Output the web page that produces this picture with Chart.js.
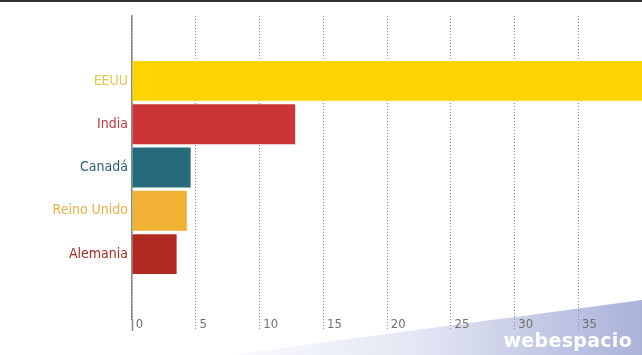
<!DOCTYPE html>
<html>
<head>
<meta charset="utf-8">
<script src="https://cdn.jsdelivr.net/npm/chart.js@4"></script>
<style>
  html, body { margin: 0; padding: 0; background: #fff; }
  .wrap { position: relative; width: 642px; height: 355px; overflow: hidden; background: #fff; }
  .topline { position: absolute; left: 0; top: 0; width: 642px; height: 2px; background: #333; }
  .band {
    position: absolute; left: 0; top: 0; width: 642px; height: 355px;
    clip-path: polygon(230px 355px, 642px 300px, 642px 355px);
    background: linear-gradient(90deg, rgba(255,255,255,0) 30%, rgba(220,224,240,0.8) 65%, #aab2da 100%);
  }
  .brand {
    position: absolute; right: 10px; top: 329px;
    font-family: "DejaVu Sans", sans-serif; font-weight: bold; font-size: 19px;
    color: #fff; letter-spacing: 0.3px;
  }
  canvas { position: absolute; left: 0; top: 0; }
</style>
</head>
<body>
<div class="wrap">
  <div class="band"></div>
  <canvas id="chart" width="642" height="355"></canvas>
  <div class="brand">webespacio</div>
  <div class="topline"></div>
</div>
<script>
const countries = ["", "EEUU", "India", "Canadá", "Reino Unido", "Alemania", ""];
const values = [null, 41, 12.8, 4.6, 4.3, 3.5, null];
const barColors = ["#ffd400", "#ffd400", "#cc3535", "#266b7a", "#f2b134", "#b0291f", "#fff"];
const labelColors = ["#fff", "#e6c550", "#c0393b", "#2a5f6e", "#e8b048", "#a52a22", "#fff"];
const xTicks = [0, 5, 10, 15, 20, 25, 30, 35];

const fontFamily = "'DejaVu Sans Condensed', 'Liberation Sans Narrow', sans-serif";

new Chart(document.getElementById("chart"), {
  type: "bar",
  data: {
    labels: countries,
    datasets: [
      {
        data: values,
        backgroundColor: barColors,
        barPercentage: 0.92,
        categoryPercentage: 1,
      },
    ],
  },
  options: {
    indexAxis: "y",
    responsive: false,
    animation: false,
    layout: { padding: { top: 16, right: 0, left: 0, bottom: 0 } },
    plugins: { legend: { display: false }, tooltip: { enabled: false } },
    scales: {
      x: {
        min: 0,
        max: 40,
        afterFit(scale) {
          scale.height = 36;
        },
        border: { display: false, dash: [1, 2] },
        grid: {
          color: ctx => (ctx.tick && xTicks.includes(ctx.tick.value) ? "#8c8c8c" : "rgba(0,0,0,0)"),
          lineWidth: 1,
          drawTicks: true,
          tickLength: 12,
          tickColor: ctx => (ctx.tick && ctx.tick.value === 0 ? "#888" : ctx.tick && xTicks.includes(ctx.tick.value) ? "#8c8c8c" : "rgba(0,0,0,0)"),
          tickBorderDash: ctx => (ctx.tick && ctx.tick.value === 0 ? [] : [1, 2]),
          tickWidth: ctx => (ctx.tick && ctx.tick.value === 0 ? 1.5 : 1),
        },
        ticks: {
          stepSize: 5,
          align: "start",
          padding: -14,
          maxRotation: 0,
          autoSkip: false,
          color: "#707070",
          font: { family: fontFamily, size: 13 },
          callback: value => (xTicks.includes(value) ? " " + value : ""),
        },
      },
      y: {
        afterFit(scale) {
          scale.width = 132;
        },
        border: { display: true, color: "#888", width: 1.5 },
        grid: { display: false, drawTicks: false },
        ticks: {
          padding: 4,
          color: labelColors,
          font: { family: fontFamily, size: 14 },
        },
      },
    },
  },
});
</script>
</body>
</html>
